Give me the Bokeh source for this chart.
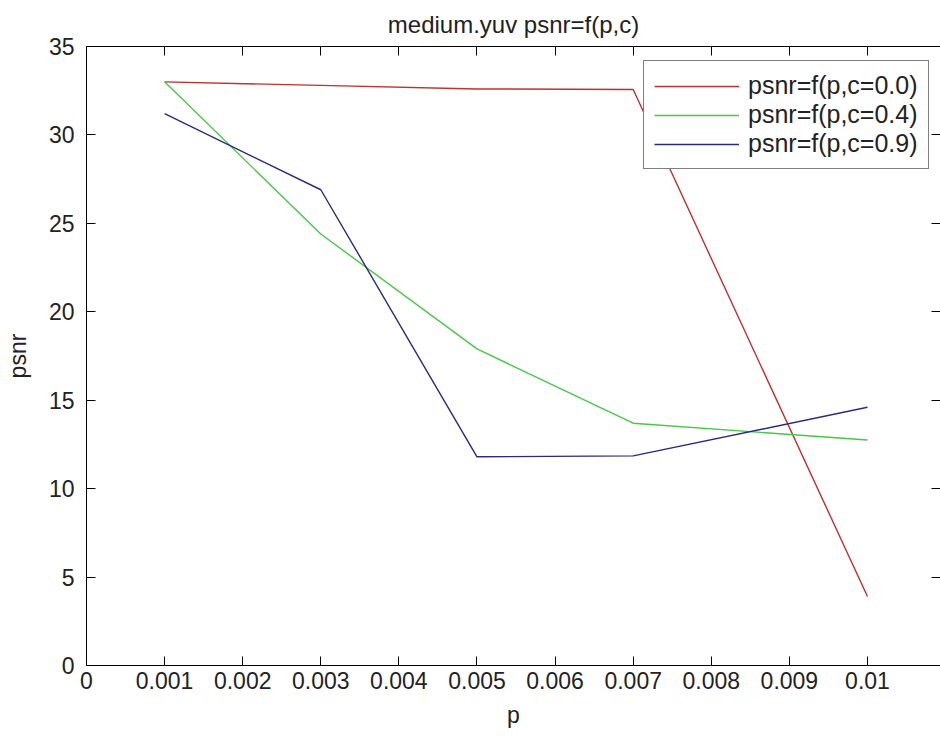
from bokeh.plotting import figure
from bokeh.models import Range1d, LinearAxis, FixedTicker, Legend, LegendItem
from bokeh.embed import file_html
from bokeh.resources import INLINE

# ---- data ----
p_values = [0.001, 0.003, 0.005, 0.007, 0.010]
psnr_c00 = [33.0, 32.8, 32.6, 32.57, 3.9]
psnr_c04 = [33.0, 24.4, 17.9, 13.7, 12.75]
psnr_c09 = [31.2, 26.9, 11.8, 11.85, 14.6]
series_labels = ["psnr=f(p,c=0.0)", "psnr=f(p,c=0.4)", "psnr=f(p,c=0.9)"]
series_colors = ["#C03030", "#46C846", "#2A2A80"]

x_ticks = [0, 0.001, 0.002, 0.003, 0.004, 0.005, 0.006, 0.007, 0.008, 0.009, 0.01]
x_tick_labels = ["0", "0.001", "0.002", "0.003", "0.004", "0.005", "0.006",
                 "0.007", "0.008", "0.009", "0.01"]
y_ticks = [0, 5, 10, 15, 20, 25, 30, 35]
y_tick_labels = ["0", "5", "10", "15", "20", "25", "30", "35"]

FONT = "Liberation Sans"

p = figure(width=940, height=736, output_backend="svg", toolbar_location=None,
           x_range=Range1d(0, 0.010935), y_range=Range1d(0, 35),
           min_border_left=86, min_border_right=0, min_border_top=46,
           min_border_bottom=71,
           title="medium.yuv psnr=f(p,c)", x_axis_label="p", y_axis_label="psnr",
           background_fill_color="white", border_fill_color="white")
p.outline_line_color = None
p.grid.visible = False

p.title.align = "center"
p.title.text_font = FONT
p.title.text_font_size = "24px"
p.title.text_font_style = "normal"
p.title.text_color = "#222222"
p.title.standoff = 17

def style_axis(ax):
    ax.major_tick_in = 9
    ax.major_tick_out = 0
    ax.minor_tick_in = 0
    ax.minor_tick_out = 0
    ax.axis_line_color = "black"
    ax.major_tick_line_color = "black"
    ax.minor_tick_line_color = "black"
    ax.major_label_text_font = FONT
    ax.major_label_text_font_size = "23px"
    ax.major_label_text_color = "#222222"
    ax.axis_label_text_font = FONT
    ax.axis_label_text_font_size = "23px"
    ax.axis_label_text_font_style = "normal"
    ax.axis_label_text_color = "#222222"

xax = p.xaxis[0]
yax = p.yaxis[0]
style_axis(xax)
style_axis(yax)
xax.ticker = FixedTicker(ticks=x_ticks)
xax.major_label_overrides = {t: s for t, s in zip(x_ticks, x_tick_labels)}
yax.ticker = FixedTicker(ticks=y_ticks)
yax.major_label_overrides = {t: s for t, s in zip(y_ticks, y_tick_labels)}
xax.major_label_standoff = 6
xax.axis_label_standoff = 10
yax.major_label_standoff = 12
yax.axis_label_standoff = 15

# top and right frame edges: tick marks only (no labels), drawn as minor ticks
top_ax = LinearAxis(ticker=FixedTicker(ticks=[], minor_ticks=x_ticks))
style_axis(top_ax)
top_ax.minor_tick_in = 9
top_ax.major_label_standoff = 0
p.add_layout(top_ax, "above")

right_ax = LinearAxis(ticker=FixedTicker(ticks=[], minor_ticks=y_ticks))
style_axis(right_ax)
right_ax.minor_tick_in = 9
right_ax.major_label_standoff = 0
right_ax.axis_line_color = None
p.add_layout(right_ax, "right")

renderers = []
for ys, col in zip([psnr_c00, psnr_c04, psnr_c09], series_colors):
    renderers.append(p.line(p_values, ys, line_color=col, line_width=1.4))

legend = Legend(items=[LegendItem(label=lab, renderers=[r])
                       for lab, r in zip(series_labels, renderers)],
                location=(557, 496), margin=0, padding=10, spacing=0,
                glyph_width=85, glyph_height=28, label_height=28,
                label_standoff=9, label_text_font=FONT,
                label_text_font_size="25px", label_text_color="#222222",
                border_line_color="black", border_line_width=1,
                background_fill_color="white", background_fill_alpha=1.0)
p.add_layout(legend)

open("out.html", "w").write(file_html(p, INLINE))
